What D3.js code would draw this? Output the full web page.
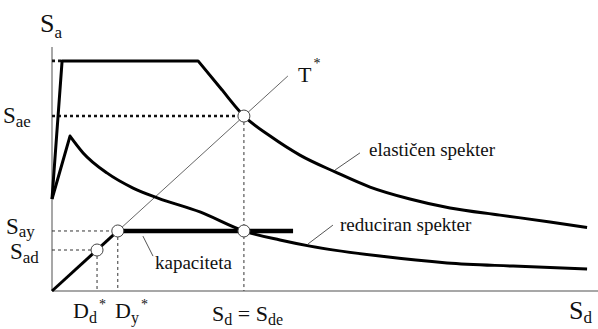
<!DOCTYPE html>
<html>
<head>
<meta charset="utf-8">
<script src="https://cdn.jsdelivr.net/npm/d3@7"></script>
<style>
  html, body { margin: 0; padding: 0; background: #fff; }
  svg text { font-family: "Liberation Serif", "Times New Roman", serif; fill: #111; }
</style>
</head>
<body>
<svg id="chart" width="598" height="329"></svg>
<script>
// Spectral displacement Sd [cm] and spectral acceleration Sa [g]
const elasticSd = [0, 0.37, 5.35, 6.23, 7.03, 7.99, 9.08, 10.37, 11.65, 13.11, 14.58, 16.41, 18.24, 19.6];
const elasticSa = [0.377, 0.943, 0.943, 0.824, 0.717, 0.635, 0.557, 0.488, 0.426, 0.377, 0.340, 0.311, 0.283, 0.260];

const reducedSd = [0, 0.66, 1.14, 2.01, 2.97, 3.88, 5.42, 7.03, 8.35, 9.45, 12.01, 14.47, 16.89, 19.6];
const reducedSa = [0.377, 0.635, 0.566, 0.484, 0.422, 0.381, 0.324, 0.246, 0.209, 0.184, 0.143, 0.115, 0.102, 0.090];

// Bilinear capacity curve of the equivalent SDOF system
const capacitySd = [0, 2.41, 8.83];
const capacitySa = [0, 0.246, 0.246];

// Characteristic points
const Sae = 0.717, Sde = 7.03;
const Say = 0.246, Dy = 2.41;
const Sad = 0.168, Dd = 1.65;
const plateauSa = 0.943, plateauSd = 0.37;
const periodLineEndSd = 8.64;

const svg = d3.select("#chart");
const x = d3.scaleLinear().domain([0, 20]).range([52, 598]);
const y = d3.scaleLinear().domain([0, 1]).range([291, 47]);

const line = d3.line().x(d => x(d[0])).y(d => y(d[1]));
const smooth = d3.line().x(d => x(d[0])).y(d => y(d[1])).curve(d3.curveMonotoneX);
const zip = (a, b) => a.map((v, i) => [v, b[i]]);

// Axes
svg.append("line").attr("x1", x(0)).attr("x2", x(0)).attr("y1", y(0)).attr("y2", y(1))
  .attr("stroke", "#8a8a8a").attr("stroke-width", 1.5);
svg.append("line").attr("x1", x(0)).attr("x2", x(20)).attr("y1", y(0)).attr("y2", y(0))
  .attr("stroke", "#8a8a8a").attr("stroke-width", 1.5);

// Guide lines
const thickDots = { stroke: "#111", width: 2.6, dash: "3,3" };
const thinDash = { stroke: "#333", width: 1, dash: "3,3" };
function guide(x1, y1, x2, y2, s) {
  svg.append("line").attr("x1", x(x1)).attr("y1", y(y1)).attr("x2", x(x2)).attr("y2", y(y2))
    .attr("stroke", s.stroke).attr("stroke-width", s.width).attr("stroke-dasharray", s.dash);
}
guide(0, plateauSa, plateauSd, plateauSa, thickDots);
guide(0, Sae, Sde, Sae, thickDots);
guide(Sde, Sae, Sde, 0, thinDash);
guide(0, Say, Dy, Say, thinDash);
guide(0, Sad, Dd, Sad, thinDash);
guide(Dy, Say, Dy, 0, thinDash);
guide(Dd, Sad, Dd, 0, thinDash);

// Period line T*
svg.append("line")
  .attr("x1", x(0)).attr("y1", y(0))
  .attr("x2", x(periodLineEndSd)).attr("y2", y(periodLineEndSd * Sae / Sde))
  .attr("stroke", "#666").attr("stroke-width", 1);

// Spectra: straight rising branches, smooth descending branches
const el = zip(elasticSd, elasticSa);
svg.append("path").attr("d", line(el.slice(0, 4)) + smooth(el.slice(3)).replace(/^M/, "L"))
  .attr("fill", "none").attr("stroke", "#000").attr("stroke-width", 3).attr("stroke-linejoin", "round");
const red = zip(reducedSd, reducedSa);
svg.append("path").attr("d", line(red.slice(0, 2)) + smooth(red.slice(1)).replace(/^M/, "L"))
  .attr("fill", "none").attr("stroke", "#000").attr("stroke-width", 3).attr("stroke-linejoin", "round");

// Capacity curve
const cap = zip(capacitySd, capacitySa);
svg.append("path").attr("d", line(cap.slice(0, 2)))
  .attr("fill", "none").attr("stroke", "#000").attr("stroke-width", 3);
svg.append("path").attr("d", line(cap.slice(1)))
  .attr("fill", "none").attr("stroke", "#000").attr("stroke-width", 4.5);

// Leader lines
function leader(x1, y1, x2, y2) {
  svg.append("line").attr("x1", x(x1)).attr("y1", y(y1)).attr("x2", x(x2)).attr("y2", y(y2))
    .attr("stroke", "#555").attr("stroke-width", 1);
}
leader(10.37, 0.496, 11.28, 0.566);
leader(9.38, 0.193, 10.29, 0.270);
leader(3.33, 0.225, 3.70, 0.143);

// Characteristic points
[[Sde, Sae], [Dy, Say], [Dd, Sad], [Sde, Say]].forEach(p => {
  svg.append("circle").attr("cx", x(p[0])).attr("cy", y(p[1])).attr("r", 6)
    .attr("fill", "#fff").attr("stroke", "#444").attr("stroke-width", 1);
});

// Labels
function label(px, py, main, sub, size, subSize, sup, subDy) {
  const t = svg.append("text").attr("x", px).attr("y", py).attr("font-size", size);
  t.append("tspan").text(main);
  const dy = subDy !== undefined ? subDy : size * 0.22;
  if (sub) t.append("tspan").attr("font-size", subSize).attr("dy", dy).text(sub);
  if (sup) t.append("tspan").attr("font-size", 14).attr("dx", 2).attr("dy", -size * 0.62).text(sup);
  return t;
}
label(40, 32, "S", "a", 26, 17);
label(569, 319, "S", "d", 26, 17, null, 4);
label(3, 123, "S", "ae", 23, 17, null, 4);
label(6, 234, "S", "ay", 23, 17, null, 3);
label(10, 259, "S", "ad", 23, 17, null, 4);
label(73, 318, "D", "d", 22, 16, "*");
label(115, 318, "D", "y", 22, 16, "*");
label(298, 82, "T", null, 22, 15, "*");

const sd = svg.append("text").attr("x", 212).attr("y", 321).attr("font-size", 22);
sd.append("tspan").text("S");
sd.append("tspan").attr("font-size", 16).attr("dy", 4).text("d");
sd.append("tspan").attr("dy", -4).text(" = S");
sd.append("tspan").attr("font-size", 16).attr("dy", 4).text("de");

svg.append("text").attr("x", 369).attr("y", 156).attr("font-size", 19).text("elastičen spekter");
svg.append("text").attr("x", 340).attr("y", 231).attr("font-size", 19).text("reduciran spekter");
svg.append("text").attr("x", 155).attr("y", 269).attr("font-size", 19).text("kapaciteta");
</script>
</body>
</html>
